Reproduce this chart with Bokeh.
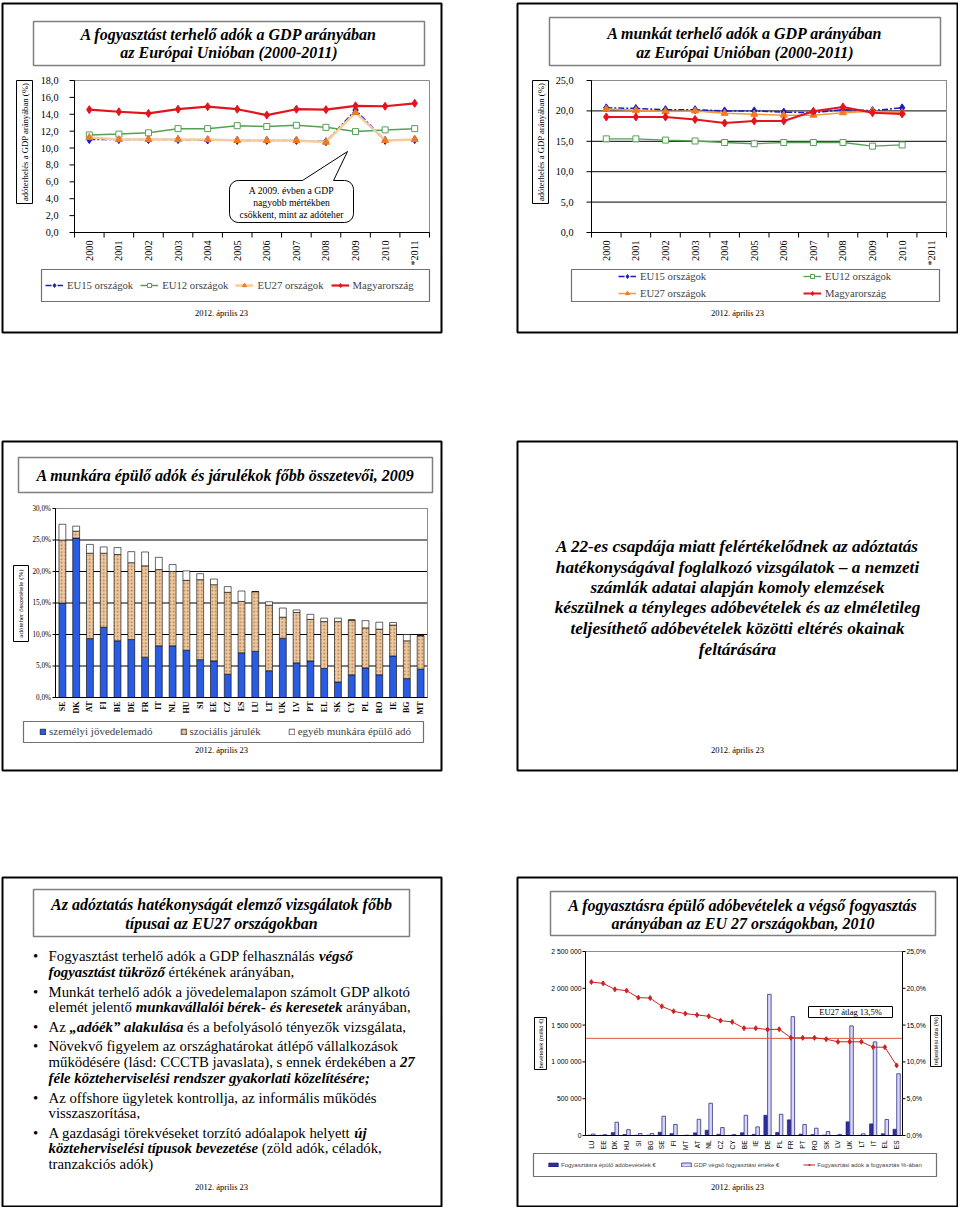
import math
import unicodedata
from bokeh.plotting import figure
from bokeh.models import Range1d, Legend, LegendItem, ColumnDataSource
from bokeh.core.properties import value
from bokeh.layouts import row, column
from bokeh.transform import dodge
from bokeh.embed import file_html
from bokeh.resources import INLINE

SERIF = "Liberation Serif"
SANS = "Liberation Sans"

# ---------------- data ----------------
years = ["2000", "2001", "2002", "2003", "2004", "2005", "2006", "2007", "2008", "2009", "2010", "*2011"]

# slide 1: consumption taxes, % of GDP
c_eu15 = [11.0, 11.0, 11.0, 11.0, 10.95, 10.9, 10.9, 10.9, 10.75, 14.5, 10.9, 11.0]
c_eu12 = [11.55, 11.65, 11.8, 12.3, 12.3, 12.65, 12.55, 12.7, 12.45, 11.95, 12.15, 12.3]
c_eu27 = [11.25, 11.0, 11.0, 11.0, 11.0, 10.9, 10.9, 10.9, 10.7, 14.2, 10.9, 11.0]
c_hu = [14.55, 14.3, 14.1, 14.6, 14.9, 14.6, 13.9, 14.6, 14.55, 15.0, 14.95, 15.3]
c_yticks = [0, 2, 4, 6, 8, 10, 12, 14, 16, 18]

# slide 2: labour taxes, % of GDP (no 2011 data)
NA = float("nan")
l_eu15 = [20.5, 20.4, 20.2, 20.2, 20.0, 20.0, 19.8, 19.7, 20.2, 20.05, 20.5, NA]
l_eu12 = [15.4, 15.4, 15.2, 15.05, 14.8, 14.6, 14.8, 14.8, 14.8, 14.2, 14.4, NA]
l_eu27 = [20.3, 20.1, 19.9, 20.0, 19.6, 19.45, 19.3, 19.3, 19.7, 19.95, 19.7, NA]
l_hu = [19.0, 19.0, 19.0, 18.6, 18.0, 18.35, 18.35, 19.95, 20.65, 19.7, 19.5, NA]
l_yticks = [0, 5, 10, 15, 20, 25]

series_names = ["EU15 országok", "EU12 országok", "EU27 országok", "Magyarország"]

# slide 3: components of labour taxes, 2009 (%)
countries3 = ["SE", "DK", "AT", "FI", "BE", "DE", "FR", "IT", "NL", "HU", "SI", "EE", "CZ", "ES",
              "LU", "LT", "UK", "LV", "PT", "EL", "SK", "CY", "PL", "RO", "IE", "BG", "MT"]
pit3 = [15.0, 25.3, 9.35, 11.15, 9.0, 9.2, 6.4, 8.2, 8.2, 7.5, 6.0, 5.8, 3.7, 7.1,
        7.3, 4.25, 9.4, 5.5, 5.8, 4.6, 2.45, 3.6, 4.7, 3.6, 6.6, 3.0, 4.5]
soc3 = [10.0, 1.1, 13.55, 11.75, 13.7, 12.2, 14.5, 12.1, 11.8, 11.1, 12.7, 12.1, 13.0, 8.15,
        9.5, 10.4, 3.35, 8.0, 6.6, 7.45, 9.6, 8.7, 6.35, 7.25, 4.9, 6.0, 5.3]
oth3 = [2.5, 0.8, 1.4, 1.0, 1.1, 1.75, 2.2, 1.95, 1.1, 1.5, 0.95, 0.9, 0.9, 1.65,
        0.0, 0.55, 1.45, 0.4, 0.8, 0.55, 0.55, 0.0, 1.15, 1.1, 0.4, 1.0, 0.0]
names3 = ["személyi jövedelemadó", "szociális járulék", "egyéb munkára épülő adó"]
ticks3 = [0, 5, 10, 15, 20, 25, 30]

# slide 5: consumption tax revenue vs final consumption, 2010
countries5 = ["LU", "EE", "DK", "HU", "SI", "BG", "SE", "FI", "MT", "AT", "NL", "CZ", "CY", "BE",
              "IE", "DE", "PL", "FR", "PT", "RO", "SK", "LV", "UK", "LT", "IT", "EL", "ES"]
tax5 = [5000, 2500, 40000, 15000, 5000, 5000, 45000, 26000, 1000, 36000, 72000, 17000, 2000, 38000,
        16000, 275000, 42000, 213000, 19000, 12000, 7000, 2000, 186000, 3000, 158000, 24000, 85000]
cons5 = [20000, 12000, 180000, 80000, 27000, 28000, 262000, 150000, 5000, 220000, 438000, 108000, 14000, 275000,
         117000, 1918000, 289000, 1615000, 149000, 99000, 54000, 15000, 1489000, 23000, 1272000, 217000, 839000]
rate5 = [20.85, 20.67, 19.86, 19.68, 18.73, 18.68, 17.55, 16.88, 16.56, 16.38, 16.2, 15.61, 15.43, 14.58,
         14.58, 14.4, 14.44, 13.27, 13.27, 13.27, 13.09, 12.73, 12.73, 12.73, 12.0, 12.0, 9.52]
avg5 = 13.2
names5 = ["Fogyasztásra épülő adóbevételek €", "GDP végső fogyasztási értéke €",
          "Fogyasztási adók a fogyasztás %-ában"]
ticks5_left = [0, 500000, 1000000, 1500000, 2000000, 2500000]
ticks5_right = [0, 5, 10, 15, 20, 25]

DATE = "2012. április 23"

# ---------------- text metrics (Times-compatible) ----------------
TR = {' ': 250, 'a': 444, 'b': 500, 'c': 444, 'd': 500, 'e': 444, 'f': 333, 'g': 500, 'h': 500, 'i': 278,
      'j': 278, 'k': 500, 'l': 278, 'm': 778, 'n': 500, 'o': 500, 'p': 500, 'q': 500, 'r': 333, 's': 389,
      't': 278, 'u': 500, 'v': 500, 'w': 722, 'x': 500, 'y': 500, 'z': 444, 'A': 722, 'B': 667, 'C': 667,
      'D': 722, 'E': 611, 'F': 556, 'G': 722, 'H': 722, 'I': 333, 'J': 389, 'K': 722, 'L': 611, 'M': 889,
      'N': 722, 'O': 722, 'P': 556, 'Q': 722, 'R': 667, 'S': 556, 'T': 611, 'U': 722, 'V': 722, 'W': 944,
      'X': 722, 'Y': 722, 'Z': 611, ',': 250, '.': 250, ':': 278, ';': 278, '(': 333, ')': 333, '-': 333,
      '„': 444, '”': 444, '%': 833}
TBI = {' ': 250, 'a': 500, 'b': 500, 'c': 444, 'd': 500, 'e': 444, 'f': 333, 'g': 500, 'h': 556, 'i': 278,
       'j': 278, 'k': 500, 'l': 278, 'm': 778, 'n': 556, 'o': 500, 'p': 500, 'q': 500, 'r': 389, 's': 389,
       't': 278, 'u': 556, 'v': 444, 'w': 667, 'x': 500, 'y': 444, 'z': 389, 'A': 667, 'E': 667, 'U': 722,
       ',': 250, '.': 250, ';': 389, '-': 333, '„': 500, '”': 500}


def text_width(s, table, size):
    tot = 0
    for ch in s:
        base = unicodedata.normalize("NFD", ch)[0]
        tot += table.get(ch, table.get(base, 500))
    return tot * size / 1000.0


def comma(v, suffix=""):
    return f"{v:.1f}".replace(".", ",") + suffix


def lin_range(d0, d1, p0, p1, total):
    s = (p1 - p0) / float(d1 - d0)
    return Range1d(d0 - p0 / s, d1 + (total - p1) / s)


# ---------------- slide helper: canvas in page pixels ----------------
class Slide:
    def __init__(self, ox, oy, w, h):
        self.ox, self.oy, self.w, self.h = ox, oy, w, h
        p = figure(width=w, height=h, x_range=Range1d(0, w), y_range=Range1d(0, h), min_border=0,
                   x_axis_type=None, y_axis_type=None, output_backend="svg", toolbar_location=None,
                   title=None)
        p.outline_line_color = None
        p.background_fill_color = "white"
        p.border_fill_color = "white"
        self.p = p

    def X(self, x):
        return x - self.ox

    def Y(self, y):
        return self.h - (y - self.oy)

    def chart(self, frame, xdom, ydom, name="c"):
        fx0, fy0, fx1, fy1 = frame
        if xdom is not None:
            xr = dict(self.p.extra_x_ranges)
            xr[name] = lin_range(xdom[0], xdom[1], self.X(fx0), self.X(fx1), self.w)
            self.p.extra_x_ranges = xr
        yr = dict(self.p.extra_y_ranges)
        yr[name] = lin_range(ydom[0], ydom[1], self.Y(fy1), self.Y(fy0), self.h)
        self.p.extra_y_ranges = yr

    def texts(self, xs, ys, ts, size, style="normal", font=SERIF, align="center", angle=0.0,
              xr="default", yr="default", color="black"):
        self.p.text(x=list(xs), y=list(ys), text=list(ts), text_font=value(font),
                    text_font_size=value(f"{size}px"), text_font_style=style, text_align=align,
                    text_baseline="middle", angle=angle, text_color=color,
                    x_range_name=xr, y_range_name=yr)

    def text(self, x, y, s, size, **kw):
        self.texts([self.X(x)], [self.Y(y)], [s], size, **kw)

    def box(self, x0, y0, x1, y1, color="black", width=1.0, fill=None):
        self.p.quad(left=[self.X(x0)], right=[self.X(x1)], top=[self.Y(y0)], bottom=[self.Y(y1)],
                    fill_color=fill, line_color=color, line_width=width)

    def poly(self, pts, color="black", width=1.0, fill="white"):
        self.p.patch(x=[self.X(x) for x, _ in pts], y=[self.Y(y) for _, y in pts],
                     fill_color=fill, line_color=color, line_width=width)

    def title(self, x0, y0, x1, y1, lines, ys, size=16):
        self.box(x0, y0, x1, y1, "#7f7f7f", 1.5)
        cx = (x0 + x1) / 2.0
        for t, y in zip(lines, ys):
            self.text(cx, y, t, size, style="bold italic")

    def border(self, x0, y0, x1, y1):
        self.box(x0, y0, x1, y1, "black", 2)

    def date(self, cx, y):
        self.text(cx, y, DATE, 8.5)

    def legend(self, items, left, bottom, **kw):
        opts = dict(orientation="horizontal", padding=0, margin=0, border_line_color=None,
                    background_fill_alpha=0.0, label_text_font=SERIF, label_text_font_size="10.7px",
                    label_standoff=4, spacing=7, glyph_width=18, glyph_height=10, label_height=10)
        opts.update(kw)
        leg = Legend(items=items, location=(self.X(left), self.Y(bottom)), **opts)
        self.p.add_layout(leg)
        return leg


def year_axes(s, frame, yticks, ylab_right, grid):
    """Axis lines, ticks and labels of a year chart, positioned by the chart scale 'c'."""
    p = s.p
    fx0, fy0, fx1, fy1 = frame
    n = len(years)
    idx = list(range(n))
    xd0, xd1 = -0.5, n - 0.5
    yd0, yd1 = yticks[0], yticks[-1]
    if grid:
        p.segment(x0=[xd0] * (len(yticks) - 1), x1=[xd1] * (len(yticks) - 1), y0=yticks[1:], y1=yticks[1:],
                  line_color="black", line_width=1, x_range_name="c", y_range_name="c")
    p.quad(left=[xd0], right=[xd1], bottom=[yd0], top=[yd1], fill_color=None, line_color="#8c8c8c",
           line_width=1, x_range_name="c", y_range_name="c")
    p.segment(x0=[xd0, xd0], x1=[xd0, xd1], y0=[yd0, yd0], y1=[yd1, yd0], line_color="black",
              line_width=1, x_range_name="c", y_range_name="c")
    # y ticks and labels
    p.segment(x0=[s.X(fx0) - 5] * len(yticks), x1=[s.X(fx0)] * len(yticks), y0=yticks, y1=yticks,
              line_color="black", y_range_name="c")
    s.texts([s.X(ylab_right)] * len(yticks), yticks, [comma(t) for t in yticks], 10.2, align="right", yr="c")
    # x boundary ticks and year labels
    bounds = [i - 0.5 for i in range(n + 1)]
    p.segment(x0=bounds, x1=bounds, y0=[s.Y(fy1)] * len(bounds), y1=[s.Y(fy1 + 5)] * len(bounds),
              line_color="black", x_range_name="c")
    s.texts(idx, [s.Y(fy1 + 8)] * n, years, 10.2, align="right", angle=math.pi / 2, xr="c")


def rounded_callout(x0, y0, x1, y1, r, bl, br, tip):
    pts = []

    def arc(cx, cy, a0, a1):
        for k in range(7):
            a = math.radians(a0 + (a1 - a0) * k / 6.0)
            pts.append((cx + r * math.cos(a), cy + r * math.sin(a)))
    arc(x0 + r, y0 + r, 180, 270)
    pts.extend([(bl, y0), tip, (br, y0)])
    arc(x1 - r, y0 + r, 270, 360)
    arc(x1 - r, y1 - r, 0, 90)
    arc(x0 + r, y1 - r, 90, 180)
    return pts


BLUE = "#1a1ac8"
GREEN = "#55a055"
RED = "#e3141e"
ORANGE = "#f07a1e"
CK = dict(x_range_name="c", y_range_name="c")

# ---------------- slide 1 ----------------
s1 = Slide(0, 0, 479, 438)
F1 = (74, 80, 429, 232)
s1.chart(F1, (-0.5, len(years) - 0.5), (c_yticks[0], c_yticks[-1]))
p = s1.p
idx = list(range(len(years)))
year_axes(s1, F1, c_yticks, 58, grid=False)
r15 = [p.line(idx, c_eu15, line_color=BLUE, line_width=1.5, line_dash="6 2 2 2", **CK),
       p.scatter(idx, c_eu15, marker="diamond", size=8, fill_color=BLUE, line_color=BLUE, **CK)]
r12 = [p.line(idx, c_eu12, line_color=GREEN, line_width=1.5, **CK),
       p.scatter(idx, c_eu12, marker="square", size=6, fill_color="white", line_color=GREEN, **CK)]
r27 = [p.line(idx, c_eu27, line_color="#f6cba0", line_width=2.5, **CK),
       p.scatter(idx, c_eu27, marker="triangle", size=7, fill_color=ORANGE, line_color=ORANGE, **CK)]
rhu = [p.line(idx, c_hu, line_color=RED, line_width=2.2, **CK),
       p.scatter(idx, c_hu, marker="diamond", size=8, fill_color=RED, line_color=RED, **CK)]
s1.title(33, 21, 424, 65, ["A fogyasztást terhelő adók a GDP arányában", "az Európai Unióban (2000-2011)"], [34, 52])
s1.box(16, 80, 32, 203, "black", 1)
s1.text(24, 141.5, "adóterhelés a GDP arányában (%)", 8.7, angle=math.pi / 2)
s1.poly(rounded_callout(229, 180, 353, 222, 9, 302, 333, (347, 151)))
for t, y in zip(["A 2009. évben a GDP", "nagyobb mértékben", "csökkent, mint az adóteher"], [190, 202, 213.5]):
    s1.text(291, y, t, 9.7)
s1.box(41, 269, 429, 301, "#707070", 1.2)
s1.legend([LegendItem(label=n, renderers=r) for n, r in zip(series_names, [r15, r12, r27, rhu])],
          left=45, bottom=291)
s1.date(221, 312)
s1.border(2, 3, 441, 332)

# ---------------- slide 2 ----------------
s2 = Slide(479, 0, 479, 438)
F2 = (591, 80, 946, 232)
s2.chart(F2, (-0.5, len(years) - 0.5), (l_yticks[0], l_yticks[-1]))
p = s2.p
year_axes(s2, F2, l_yticks, 573, grid=True)
q15 = [p.line(idx, l_eu15, line_color=BLUE, line_width=1.5, line_dash="6 2 2 2", **CK),
       p.scatter(idx, l_eu15, marker="diamond", size=8, fill_color=BLUE, line_color=BLUE, **CK)]
q12 = [p.line(idx, l_eu12, line_color=GREEN, line_width=1.3, **CK),
       p.scatter(idx, l_eu12, marker="square", size=6, fill_color="white", line_color=GREEN, **CK)]
q27 = [p.line(idx, l_eu27, line_color="#f49a3c", line_width=1.5, **CK),
       p.scatter(idx, l_eu27, marker="triangle", size=7, fill_color=ORANGE, line_color=ORANGE, **CK)]
qhu = [p.line(idx, l_hu, line_color=RED, line_width=2.0, **CK),
       p.scatter(idx, l_hu, marker="diamond", size=8, fill_color=RED, line_color=RED, **CK)]
s2.title(549, 17, 940, 65, ["A munkát terhelő adók a GDP arányában", "az Európai Unióban (2000-2011)"], [33, 52])
s2.box(532, 80, 548, 203, "black", 1)
s2.text(540, 141.5, "adóterhelés a GDP arányában (%)", 8.7, angle=math.pi / 2)
s2.box(571, 269, 939, 301, "#707070", 1.2)
s2.legend([LegendItem(label=series_names[0], renderers=q15), LegendItem(label=series_names[2], renderers=q27)],
          left=618, bottom=299, orientation="vertical", spacing=5)
s2.legend([LegendItem(label=series_names[1], renderers=q12), LegendItem(label=series_names[3], renderers=qhu)],
          left=803, bottom=299, orientation="vertical", spacing=5)
s2.date(737, 312)
s2.border(517, 3, 957, 332)

# ---------------- slide 3 ----------------
s3 = Slide(0, 438, 479, 436)
F3 = (55, 508, 427, 697)
n3 = len(countries3)
s3.chart(F3, (0, n3), (ticks3[0], ticks3[-1]))
p = s3.p
xi3 = [i + 0.5 for i in range(n3)]
p.segment(x0=[0] * (len(ticks3) - 1), x1=[n3] * (len(ticks3) - 1), y0=ticks3[1:], y1=ticks3[1:],
          line_color="black", line_width=1, **CK)
p.quad(left=[0], right=[n3], bottom=[ticks3[0]], top=[ticks3[-1]], fill_color=None, line_color="#8c8c8c", **CK)
src3 = ColumnDataSource(dict(x=xi3, pit=pit3, soc=soc3, oth=oth3))
bars3 = p.vbar_stack(["pit", "soc", "oth"], x="x", width=0.5, source=src3,
                     fill_color=["#2a5be3", "#ecc9a2", "white"], line_color="black", line_width=0.6,
                     hatch_pattern=[" ", "dot", " "], hatch_color="#b8773f", hatch_scale=3.5, hatch_weight=1,
                     **CK)
p.segment(x0=[0, 0], x1=[0, n3], y0=[ticks3[0], ticks3[0]], y1=[ticks3[-1], ticks3[0]], line_color="black", **CK)
p.segment(x0=[s3.X(52)] * len(ticks3), x1=[s3.X(55)] * len(ticks3), y0=ticks3, y1=ticks3,
          line_color="black", y_range_name="c")
s3.texts([s3.X(50.5)] * len(ticks3), ticks3, [comma(t, "%") for t in ticks3], 7.2, align="right", yr="c")
s3.texts(xi3, [s3.Y(701)] * n3, countries3, 8, style="bold", align="right", angle=math.pi / 2, xr="c")
s3.title(18, 457, 432, 492, ["A munkára épülő adók és járulékok főbb összetevői, 2009"], [475])
s3.box(13, 565, 28, 641, "black", 1)
s3.text(20.5, 603, "adóteher összetétele (%)", 7, angle=math.pi / 2)
s3.box(23, 721, 423, 742, "#707070", 1.2)
s3.legend([LegendItem(label=n, renderers=[r]) for n, r in zip(names3, bars3)],
          left=39, bottom=737, glyph_width=7, glyph_height=7, label_height=7, label_standoff=3, spacing=27,
          label_text_font_size="11px")
s3.date(221, 749)
s3.border(2, 441, 441, 770)

# ---------------- slide 6 (text) ----------------
s6 = Slide(479, 438, 479, 436)
lines6 = ["A 22-es csapdája miatt felértékelődnek az adóztatás",
          "hatékonyságával foglalkozó vizsgálatok – a nemzeti",
          "számlák adatai alapján komoly elemzések",
          "készülnek a tényleges adóbevételek és az elméletileg",
          "teljesíthető adóbevételek közötti eltérés okainak",
          "feltárására"]
for t, y in zip(lines6, [546, 567, 587, 607, 628, 649]):
    s6.text(737, y, t, 17.2, style="bold italic")
s6.date(737, 749)
s6.border(517, 441, 957, 770)

# ---------------- slide 4 (text) ----------------
s4 = Slide(0, 874, 479, 333)
s4.title(33, 889, 409, 936, ["Az adóztatás hatékonyságát elemző vizsgálatok főbb",
                             "típusai az EU27 országokban"], [904, 923])
lines4 = [
    [("Fogyasztást terhelő adók a GDP felhasználás ", "n"), ("végső", "bi")],
    [("fogyasztást tükröző", "bi"), (" értékének arányában,", "n")],
    [("Munkát terhelő adók a jövedelemalapon számolt GDP alkotó", "n")],
    [("elemét jelentő ", "n"), ("munkavállalói bérek- és keresetek", "bi"), (" arányában,", "n")],
    [("Az ", "n"), ("„adóék” alakulása", "bi"), (" és a befolyásoló tényezők vizsgálata,", "n")],
    [("Növekvő figyelem az országhatárokat átlépő vállalkozások", "n")],
    [("működésére (lásd: CCCTB javaslata), s ennek érdekében a ", "n"), ("27", "bi")],
    [("féle közteherviselési rendszer gyakorlati közelítésére;", "bi")],
    [("Az offshore ügyletek kontrollja, az informális működés", "n")],
    [("visszaszorítása,", "n")],
    [("A gazdasági törekvéseket torzító adóalapok helyett ", "n"), ("új", "bi")],
    [("közteherviselési típusok bevezetése", "bi"), (" (zöld adók, céladók,", "n")],
    [("tranzakciós adók)", "n")],
]
bullets4 = {0, 2, 4, 5, 8, 10}
ys4 = [955, 971, 991, 1006, 1026, 1045, 1061, 1077, 1097, 1112, 1132, 1147, 1163]
FS4 = 14.8
for i, (segs, y) in enumerate(zip(lines4, ys4)):
    if i in bullets4:
        s4.text(35, y, "•", FS4)
    x = 48.0
    for seg, st in segs:
        table = TBI if st == "bi" else TR
        lead = len(seg) - len(seg.lstrip(" "))
        x_draw = x + text_width(" " * lead, table, FS4)
        s4.text(x_draw, y, seg.strip(" "), FS4, style="bold italic" if st == "bi" else "normal", align="left")
        x += text_width(seg, table, FS4)
s4.date(221, 1186)
s4.border(2, 877, 441, 1206)

# ---------------- slide 5 ----------------
s5 = Slide(479, 874, 479, 333)
F5 = (585, 951, 902, 1135)
n5 = len(countries5)
s5.chart(F5, (0, n5), (ticks5_left[0], ticks5_left[-1]))
s5.chart(F5, None, (ticks5_right[0], ticks5_right[-1]), name="pct")
p = s5.p
xi5 = [i + 0.5 for i in range(n5)]
p.quad(left=[0], right=[n5], bottom=[ticks5_left[0]], top=[ticks5_left[-1]], fill_color=None,
       line_color="#8c8c8c", **CK)
src5 = ColumnDataSource(dict(x=xi5, tax=tax5, cons=cons5, rate=rate5))
b_tax = p.vbar(x=dodge("x", -0.16), top="tax", width=0.3, source=src5,
               fill_color="#2e2e9c", line_color="#1c1c70", line_width=0.6, **CK)
b_cons = p.vbar(x=dodge("x", 0.16), top="cons", width=0.3, source=src5,
                fill_color="#d8d8ff", line_color="#2e2e80", line_width=0.8, **CK)
p.segment(x0=[0], x1=[n5], y0=[avg5], y1=[avg5], line_color="#e0553a", line_width=1,
          x_range_name="c", y_range_name="pct")
r_line = p.line(x="x", y="rate", source=src5, line_color="#cc2222", line_width=1,
                x_range_name="c", y_range_name="pct")
r_mk = p.scatter(x="x", y="rate", source=src5, marker="diamond", size=5, fill_color="#cc2222",
                 line_color="#cc2222", x_range_name="c", y_range_name="pct")
p.segment(x0=[0, n5, 0], x1=[0, n5, n5], y0=[0, 0, 0], y1=[ticks5_left[-1], ticks5_left[-1], 0],
          line_color="black", **CK)
p.segment(x0=[s5.X(582)] * len(ticks5_left), x1=[s5.X(585)] * len(ticks5_left), y0=ticks5_left,
          y1=ticks5_left, line_color="black", y_range_name="c")
s5.texts([s5.X(581)] * len(ticks5_left), ticks5_left, [f"{t:,}".replace(",", " ") for t in ticks5_left],
         6.8, font=SANS, align="right", yr="c")
p.segment(x0=[s5.X(902)] * len(ticks5_right), x1=[s5.X(905)] * len(ticks5_right), y0=ticks5_right,
          y1=ticks5_right, line_color="black", y_range_name="pct")
s5.texts([s5.X(906)] * len(ticks5_right), ticks5_right, [comma(t, "%") for t in ticks5_right],
         6.8, font=SANS, align="left", yr="pct")
s5.texts(xi5, [s5.Y(1140)] * n5, countries5, 6.5, font=SANS, align="right", angle=math.pi / 2, xr="c")
s5.box(808, 1006, 892, 1017, "black", 1, fill="white")
s5.text(850, 1011.5, "EU27 átlag 13,5%", 8.5)
s5.title(550, 891, 935, 935, ["A fogyasztásra épülő adóbevételek a végső fogyasztás",
                              "arányában az EU 27 országokban, 2010"], [905, 923])
s5.box(534, 1017, 546, 1069, "black", 1)
s5.text(540, 1043, "bevételek (millió €)", 6, font=SANS, angle=math.pi / 2)
s5.box(930, 1015, 941, 1066, "black", 1)
s5.text(935.5, 1040.5, "teljesítési ráta (%)", 6, font=SANS, angle=math.pi / 2)
s5.box(533, 1153, 936, 1176, "#707070", 1.2)
s5.legend([LegendItem(label=names5[0], renderers=[b_tax]), LegendItem(label=names5[1], renderers=[b_cons]),
           LegendItem(label=names5[2], renderers=[r_line, r_mk])],
          left=547, bottom=1167.5, glyph_width=12, glyph_height=5, label_height=5, label_standoff=2,
          spacing=24, label_text_font=SANS, label_text_font_size="6px")
s5.date(737, 1186)
s5.border(517, 877, 957, 1206)

layout = column(row(s1.p, s2.p), row(s3.p, s6.p), row(s4.p, s5.p))
open("out.html", "w").write(file_html(layout, INLINE))
